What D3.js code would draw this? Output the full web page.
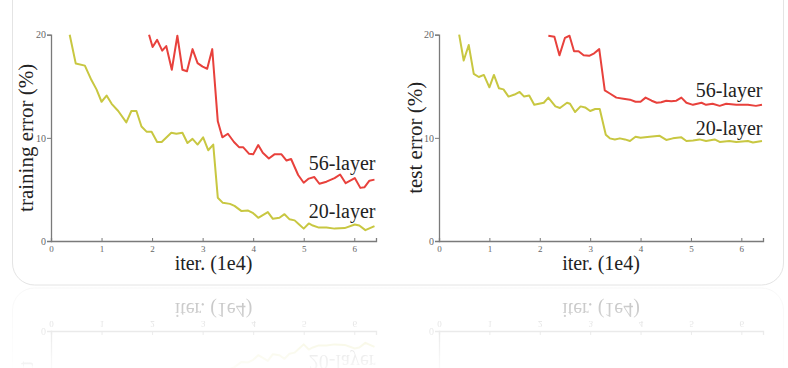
<!DOCTYPE html>
<html>
<head>
<meta charset="utf-8">
<script src="https://cdn.jsdelivr.net/npm/d3@7"></script>
<style>
  html, body { margin: 0; padding: 0; background: #ffffff; }
  svg { display: block; }
  .tick text { font-family: "Liberation Serif", "DejaVu Serif", serif; fill: #666; }
</style>
</head>
<body>
<div id="chart"></div>
<script>
// Iteration ticks (x 1e4) and error ticks (%)
const iterTicks = [0, 1, 2, 3, 4, 5, 6];
const errorTicks = [0, 10, 20];

// Training error, 20-layer plain net  [iter (1e4), error %]
const train20 = [
  [0.37, 20.0], [0.49, 17.2], [0.67, 17.0], [0.80, 15.6], [0.90, 14.7], [1.00, 13.5],
  [1.10, 14.1], [1.20, 13.3], [1.33, 12.6], [1.49, 11.5], [1.59, 12.6], [1.69, 12.6],
  [1.79, 11.1], [1.89, 10.6], [1.99, 10.6], [2.10, 9.6], [2.19, 9.6], [2.38, 10.5],
  [2.48, 10.4], [2.60, 10.5], [2.70, 9.5], [2.80, 9.9], [2.90, 9.35], [3.01, 10.05],
  [3.11, 8.8], [3.21, 9.35], [3.30, 4.2], [3.40, 3.7], [3.54, 3.6], [3.63, 3.4],
  [3.77, 2.9], [3.90, 2.95], [4.00, 2.7], [4.10, 2.25], [4.29, 2.8], [4.39, 2.15],
  [4.52, 2.25], [4.62, 2.6], [4.72, 2.1], [4.82, 2.0], [4.91, 1.6], [5.00, 1.2],
  [5.10, 1.7], [5.18, 1.5], [5.30, 1.3], [5.45, 1.3], [5.61, 1.2], [5.81, 1.25],
  [6.01, 1.6], [6.10, 1.5], [6.22, 1.05], [6.40, 1.45]
];

// Training error, 56-layer plain net
const train56 = [
  [1.94, 20.0], [2.01, 18.8], [2.10, 19.5], [2.20, 18.45], [2.28, 18.9], [2.39, 16.6],
  [2.50, 19.9], [2.60, 16.6], [2.69, 16.45], [2.80, 18.6], [2.90, 17.25], [3.00, 16.9],
  [3.09, 16.7], [3.19, 18.6], [3.30, 11.6], [3.39, 10.05], [3.50, 10.4], [3.62, 9.6],
  [3.72, 9.1], [3.80, 9.1], [3.92, 8.45], [4.00, 8.4], [4.10, 9.3], [4.19, 8.55],
  [4.31, 8.0], [4.42, 8.4], [4.56, 8.4], [4.66, 7.8], [4.75, 7.95], [4.89, 6.4],
  [5.00, 5.65], [5.10, 6.05], [5.21, 6.2], [5.31, 5.55], [5.45, 5.75], [5.61, 6.1],
  [5.72, 6.45], [5.83, 5.6], [6.01, 6.1], [6.12, 5.15], [6.20, 5.2], [6.30, 5.85],
  [6.40, 5.95]
];

// Test error, 20-layer plain net
const test20 = [
  [0.40, 20.0], [0.49, 17.5], [0.59, 19.0], [0.69, 16.2], [0.79, 15.9], [0.89, 16.1],
  [1.00, 14.9], [1.09, 16.1], [1.19, 14.8], [1.28, 14.7], [1.38, 14.0], [1.50, 14.2],
  [1.60, 14.45], [1.69, 14.0], [1.79, 14.1], [1.89, 13.2], [2.08, 13.4], [2.17, 13.9],
  [2.31, 13.05], [2.40, 12.9], [2.54, 13.4], [2.60, 13.3], [2.70, 12.5], [2.81, 13.05],
  [2.90, 12.95], [3.00, 12.6], [3.10, 12.8], [3.19, 12.8], [3.31, 10.3], [3.39, 9.95],
  [3.49, 9.85], [3.59, 9.95], [3.69, 9.85], [3.79, 9.7], [3.90, 10.1], [4.00, 10.0],
  [4.18, 10.1], [4.38, 10.2], [4.51, 9.8], [4.64, 9.95], [4.81, 10.05], [4.91, 9.7],
  [5.04, 9.75], [5.17, 9.85], [5.30, 9.7], [5.47, 9.85], [5.57, 9.6], [5.76, 9.7],
  [5.90, 9.6], [6.13, 9.7], [6.23, 9.55], [6.41, 9.7]
];

// Test error, 56-layer plain net
const test56 = [
  [2.17, 19.9], [2.29, 19.8], [2.39, 18.0], [2.50, 19.7], [2.59, 19.9], [2.68, 18.4],
  [2.77, 18.4], [2.87, 18.0], [2.98, 17.95], [3.08, 18.2], [3.18, 18.6], [3.29, 14.6],
  [3.39, 14.3], [3.52, 13.9], [3.66, 13.8], [3.79, 13.7], [3.90, 13.5], [4.00, 13.5],
  [4.10, 13.9], [4.22, 13.6], [4.32, 13.4], [4.41, 13.45], [4.51, 13.6], [4.61, 13.55],
  [4.71, 13.6], [4.81, 13.9], [4.91, 13.4], [5.04, 13.2], [5.21, 13.4], [5.30, 13.2],
  [5.43, 13.3], [5.57, 13.1], [5.70, 13.3], [5.90, 13.2], [6.13, 13.2], [6.29, 13.1],
  [6.41, 13.2]
];

const seriesNames = ["56-layer", "20-layer"];
const red = "#e8413c";
const olive = "#c8c741";

const W = 788, H = 368;
const mirrorY = 286.5;

const svg = d3.select("#chart")
  .append("svg")
  .attr("width", W)
  .attr("height", H);

const defs = svg.append("defs");

// fade used for the reflection underneath the card
const grad = defs.append("linearGradient")
  .attr("id", "fadeGrad")
  .attr("gradientUnits", "userSpaceOnUse")
  .attr("x1", 0).attr("y1", mirrorY)
  .attr("x2", 0).attr("y2", H);
grad.append("stop").attr("offset", 0).attr("stop-color", "#fff").attr("stop-opacity", 0.3);
grad.append("stop").attr("offset", 1).attr("stop-color", "#fff").attr("stop-opacity", 0.04);

defs.append("mask")
  .attr("id", "fade")
  .attr("maskUnits", "userSpaceOnUse")
  .attr("x", 0).attr("y", 0).attr("width", W).attr("height", H)
  .append("rect")
  .attr("x", 0).attr("y", mirrorY)
  .attr("width", W).attr("height", H - mirrorY)
  .attr("fill", "url(#fadeGrad)");

// the card that holds both plots
const card = defs.append("g").attr("id", "card");

card.append("rect")
  .attr("x", 12.5).attr("y", -22)
  .attr("width", 771).attr("height", 307)
  .attr("rx", 22)
  .attr("fill", "#fff")
  .attr("stroke", "#e4e4e4");

// Function to draw one panel
function createPanel(g, opts) {
  const x = d3.scaleLinear().domain([0, 6.43]).range(opts.xRange);
  const y = d3.scaleLinear().domain([0, 20]).range([241, 34.7]);

  // y axis
  const yAxis = g.append("g")
    .attr("transform", `translate(${opts.xRange[0]},0)`)
    .call(d3.axisLeft(y).tickValues(errorTicks).tickSize(4).tickPadding(1).tickFormat(d3.format("d")));
  yAxis.selectAll(".tick text").attr("font-size", 10);

  // x axis
  const xAxis = g.append("g")
    .attr("transform", `translate(0,${y(0)})`)
    .call(d3.axisBottom(x).tickValues(iterTicks).tickSize(-3).tickPadding(5).tickFormat(d3.format("d")));
  xAxis.selectAll(".tick text").attr("font-size", 9);

  g.selectAll(".domain").attr("stroke", "#7a7a7a").attr("stroke-width", 1.3);
  g.selectAll(".tick line").attr("stroke", "#7a7a7a");

  // axis titles
  g.append("text")
    .attr("transform", `translate(${opts.yTitleX},${(y(0) + y(20)) / 2}) rotate(-90)`)
    .attr("text-anchor", "middle")
    .attr("font-family", "Liberation Serif, serif")
    .attr("font-size", 21)
    .attr("fill", "#222")
    .text(opts.yTitle);

  g.append("text")
    .attr("x", (opts.xRange[0] + opts.xRange[1]) / 2)
    .attr("y", 270)
    .attr("text-anchor", "middle")
    .attr("font-family", "Liberation Serif, serif")
    .attr("font-size", 20)
    .attr("fill", "#222")
    .text("iter. (1e4)");

  const line = d3.line()
    .x(d => x(d[0]))
    .y(d => y(d[1]));

  // 20-layer first, 56-layer on top
  g.append("path")
    .datum(opts.data20)
    .attr("d", line)
    .attr("fill", "none")
    .attr("stroke", olive)
    .attr("stroke-width", 2)
    .attr("stroke-linejoin", "round");

  g.append("path")
    .datum(opts.data56)
    .attr("d", line)
    .attr("fill", "none")
    .attr("stroke", red)
    .attr("stroke-width", 2)
    .attr("stroke-linejoin", "round");

  // series labels at the right end
  [opts.label56, opts.label20].forEach((v, i) => {
    g.append("text")
      .attr("x", x(6.42))
      .attr("y", y(v))
      .attr("text-anchor", "end")
      .attr("font-family", "Liberation Serif, serif")
      .attr("font-size", 20)
      .attr("fill", "#222")
      .text(seriesNames[i]);
  });
}

createPanel(card.append("g"), {
  xRange: [51, 376],
  yTitle: "training error (%)",
  yTitleX: 33,
  data20: train20,
  data56: train56,
  label56: 6.9,
  label20: 2.2
});

createPanel(card.append("g"), {
  xRange: [439, 763],
  yTitle: "test error (%)",
  yTitleX: 422,
  data20: test20,
  data56: test56,
  label56: 14.0,
  label20: 10.3
});

// draw the card, then its mirrored reflection
svg.append("use").attr("href", "#card");

svg.append("g")
  .attr("mask", "url(#fade)")
  .append("use")
  .attr("href", "#card")
  .attr("transform", `translate(0,${2 * mirrorY}) scale(1,-1)`);
</script>
</body>
</html>
